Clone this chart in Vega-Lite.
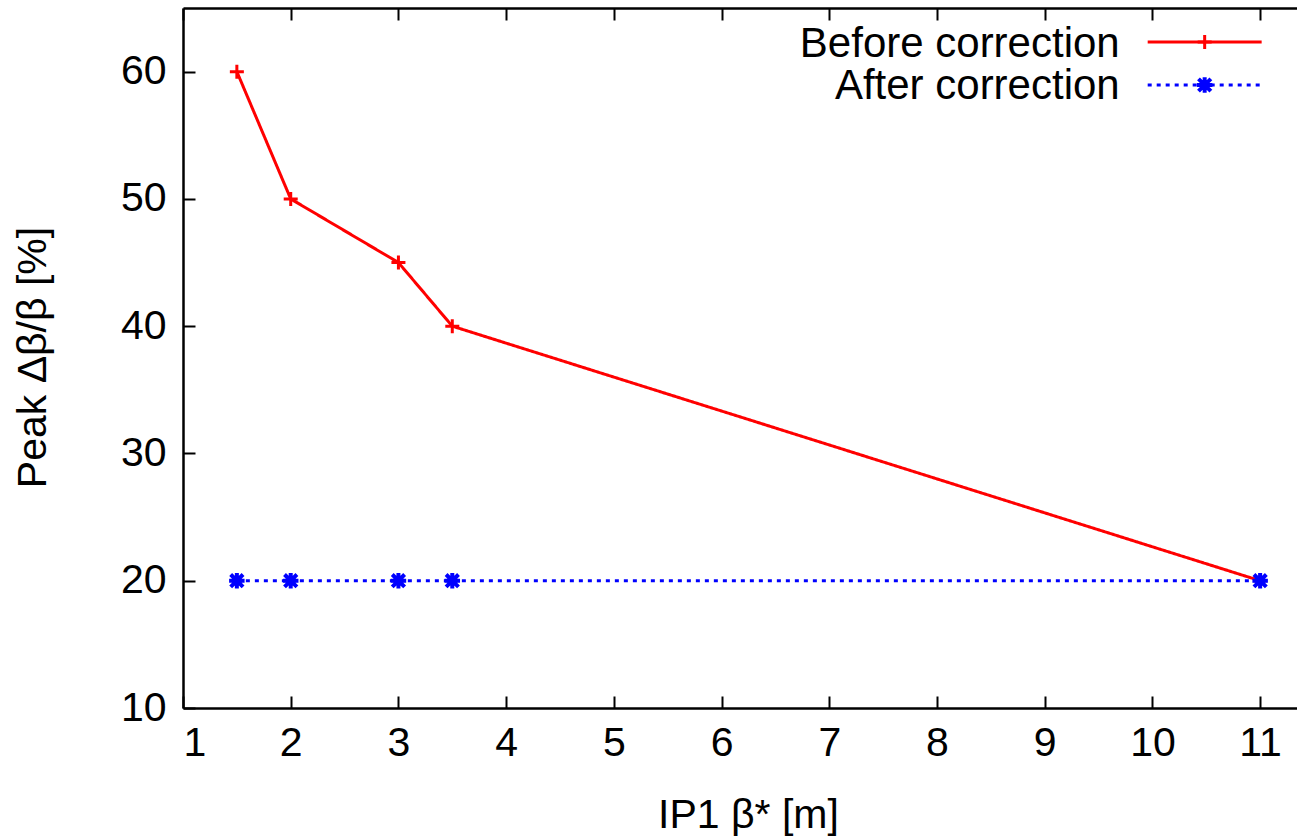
{
  "$schema": "https://vega.github.io/schema/vega-lite/v6.json",
  "width": 1131,
  "height": 700,
  "autosize": {"type": "none"},
  "padding": {"left": 183, "top": 8, "right": 0, "bottom": 132},
  "background": "white",
  "config": {
    "view": {"stroke": null},
    "font": "Liberation Sans",
    "axis": {
      "labelFont": "Liberation Sans",
      "titleFont": "Liberation Sans",
      "labelFontSize": 41,
      "titleFontSize": 41,
      "titleFontWeight": "normal",
      "labelColor": "black",
      "titleColor": "black",
      "domainColor": "black",
      "domainWidth": 2.5,
      "tickColor": "black",
      "tickWidth": 2,
      "tickSize": -12,
      "grid": false
    }
  },
  "datasets": {
    "main": [
      {"series": "Before correction", "beta": 1.5, "peak": 60},
      {"series": "Before correction", "beta": 2, "peak": 50},
      {"series": "Before correction", "beta": 3, "peak": 45},
      {"series": "Before correction", "beta": 3.5, "peak": 40},
      {"series": "Before correction", "beta": 11, "peak": 20},
      {"series": "After correction", "beta": 1.5, "peak": 20},
      {"series": "After correction", "beta": 2, "peak": 20},
      {"series": "After correction", "beta": 3, "peak": 20},
      {"series": "After correction", "beta": 3.5, "peak": 20},
      {"series": "After correction", "beta": 11, "peak": 20}
    ],
    "one": [{"k": 1}]
  },
  "layer": [
    {
      "data": {"name": "main"},
      "mark": {"type": "line", "strokeWidth": 3, "clip": false},
      "encoding": {
        "x": {"field": "beta", "type": "quantitative",
          "scale": {"domain": [1, 11.5], "nice": false, "zero": false},
          "axis": {"orient": "bottom", "values": [1,2,3,4,5,6,7,8,9,10,11], "format": "d", "title": "IP1 β* [m]", "labelPadding": 27,
            "titleX": 565, "titleY": 107, "titleBaseline": "middle", "titleAnchor": "start", "titleAlign": "center"}},
        "y": {"field": "peak", "type": "quantitative",
          "scale": {"domain": [10, 65], "nice": false, "zero": false},
          "axis": {"orient": "left", "values": [10,20,30,40,50,60], "format": "d", "title": "Peak Δβ/β [%]", "labelPadding": 29,
            "titleX": -150, "titleY": 349, "titleBaseline": "middle", "titleAlign": "center", "titleAngle": -90}},
        "color": {"field": "series", "type": "nominal",
          "scale": {"domain": ["Before correction", "After correction"], "range": ["#ff0000", "#0000ff"]}, "legend": null},
        "strokeDash": {"field": "series", "type": "nominal",
          "scale": {"domain": ["Before correction", "After correction"], "range": [[1, 0], [4, 5]]}, "legend": null}
      }
    },
    {
      "data": {"name": "main"},
      "mark": {"type": "point", "filled": false, "opacity": 1},
      "encoding": {
        "x": {"field": "beta", "type": "quantitative", "axis": null},
        "y": {"field": "peak", "type": "quantitative", "axis": null},
        "shape": {"field": "series", "type": "nominal",
          "scale": {"domain": ["Before correction", "After correction"],
            "range": ["M-1,0L1,0M0,-1L0,1", "M-1,0L1,0M0,-1L0,1M-0.8,-0.8L0.8,0.8M-0.8,0.8L0.8,-0.8"]}, "legend": null},
        "stroke": {"field": "series", "type": "nominal",
          "scale": {"domain": ["Before correction", "After correction"], "range": ["#ff0000", "#0000ff"]}, "legend": null},
        "strokeWidth": {"field": "series", "type": "nominal",
          "scale": {"domain": ["Before correction", "After correction"], "range": [3, 4]}, "legend": null},
        "size": {"field": "series", "type": "nominal",
          "scale": {"domain": ["Before correction", "After correction"], "range": [196, 240]}, "legend": null}
      }
    },
    {
      "data": {"name": "one"},
      "mark": {"type": "text", "align": "right", "baseline": "middle", "fontSize": 42, "font": "Liberation Sans", "color": "black"},
      "encoding": {"x": {"datum": 9.696, "axis": null}, "y": {"datum": 62.2, "axis": null}, "text": {"value": "Before correction"}}
    },
    {
      "data": {"name": "one"},
      "mark": {"type": "text", "align": "right", "baseline": "middle", "fontSize": 42, "font": "Liberation Sans", "color": "black"},
      "encoding": {"x": {"datum": 9.696, "axis": null}, "y": {"datum": 58.85, "axis": null}, "text": {"value": "After correction"}}
    },
    {
      "data": {"name": "one"},
      "mark": {"type": "rule", "color": "#ff0000", "strokeWidth": 3},
      "encoding": {"x": {"datum": 9.956, "axis": null}, "x2": {"datum": 11.014}, "y": {"datum": 62.33, "axis": null}}
    },
    {
      "data": {"name": "one"},
      "mark": {"type": "rule", "color": "#0000ff", "strokeWidth": 3, "strokeDash": [4, 5]},
      "encoding": {"x": {"datum": 9.956, "axis": null}, "x2": {"datum": 11.014}, "y": {"datum": 58.95, "axis": null}}
    },
    {
      "data": {"name": "one"},
      "mark": {"type": "point", "filled": false, "strokeWidth": 3, "color": "#ff0000", "shape": "M-1,0L1,0M0,-1L0,1", "size": 196, "opacity": 1},
      "encoding": {"x": {"datum": 10.485, "axis": null}, "y": {"datum": 62.33, "axis": null}}
    },
    {
      "data": {"name": "one"},
      "mark": {"type": "point", "filled": false, "strokeWidth": 4, "color": "#0000ff", "shape": "M-1,0L1,0M0,-1L0,1M-0.8,-0.8L0.8,0.8M-0.8,0.8L0.8,-0.8", "size": 240, "opacity": 1},
      "encoding": {"x": {"datum": 10.485, "axis": null}, "y": {"datum": 58.95, "axis": null}}
    },
    {
      "data": {"name": "main"},
      "mark": {"type": "point", "opacity": 0},
      "encoding": {
        "x": {"field": "beta", "type": "quantitative",
          "axis": {"orient": "top", "values": [1,2,3,4,5,6,7,8,9,10,11], "labels": false, "title": null}},
        "y": {"field": "peak", "type": "quantitative",
          "axis": {"orient": "right", "values": [10,20,30,40,50,60], "labels": false, "title": null}}
      }
    }
  ],
  "resolve": {"axis": {"x": "independent", "y": "independent"}}
}
